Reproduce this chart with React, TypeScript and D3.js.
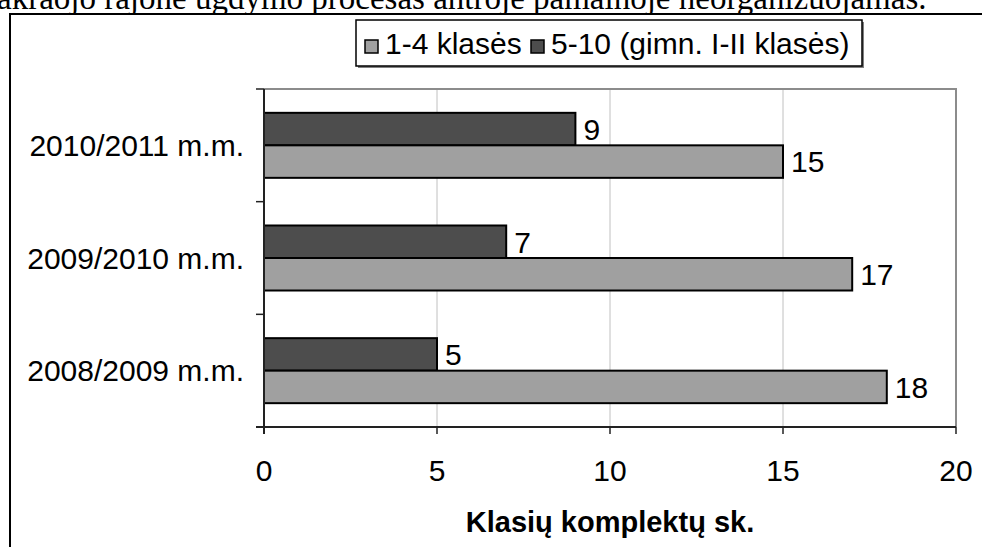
import React from 'react';
import * as d3 from 'd3';

// categories top to bottom
const years = ['2010/2011 m.m.', '2009/2010 m.m.', '2008/2009 m.m.'];
const seriesNames = ['5-10 (gimn. I-II klasės)', '1-4 klasės'];
const seniorValues = [9, 7, 5]; // 5-10 (gimn. I-II klasės)
const juniorValues = [15, 17, 18]; // 1-4 klasės
const xTicks = [0, 5, 10, 15, 20];

const W = 982;
const H = 547;
const plot = { left: 264, right: 956, top: 89, bottom: 427 };
const sans = '"Liberation Sans", Arial, sans-serif';
const fs = 30;

const colors: Record<string, string> = {
  '5-10 (gimn. I-II klasės)': '#4d4d4d',
  '1-4 klasės': '#a0a0a0',
};

export default function App() {
  const x = d3.scaleLinear().domain([0, 20]).range([plot.left, plot.right]);
  const y = d3
    .scaleBand<string>()
    .domain(years)
    .range([plot.top, plot.bottom])
    .paddingInner(0.423)
    .paddingOuter(0.2115);
  const inner = d3.scaleBand<string>().domain(seriesNames).range([0, y.bandwidth()]);
  const step = y.step();
  const bounds = d3.range(years.length + 1).map((i) => plot.top + i * step);

  const rows = years.map((yr, i) => ({
    yr,
    vals: [
      { s: seriesNames[0], v: seniorValues[i] },
      { s: seriesNames[1], v: juniorValues[i] },
    ],
  }));

  return (
    <svg width={W} height={H} style={{ position: 'absolute', left: 0, top: 0, background: '#fff' }}>
      {/* cut-off paragraph line above the chart */}
      <text x={-3} y={9} fontFamily='"Liberation Serif", "Times New Roman", serif' fontSize={33} fill="#000">
        akraojo rajone ugdymo procesas antroje pamainoje neorganizuojamas.
      </text>

      {/* outer frame */}
      <rect x={10} y={14} width={1000} height={600} fill="#fff" stroke="#000" strokeWidth={2} />

      {/* gridlines */}
      {xTicks.slice(1, -1).map((t) => (
        <line key={t} x1={x(t)} x2={x(t)} y1={plot.top} y2={plot.bottom} stroke="#c0c0c0" strokeWidth={1} />
      ))}
      {/* plot border top / right */}
      <path
        d={`M${plot.left},${plot.top}H${plot.right}V${plot.bottom}`}
        fill="none"
        stroke="#8c8c8c"
        strokeWidth={2}
      />

      {/* bars */}
      {rows.map((r) =>
        r.vals.map((d) => (
          <rect
            key={r.yr + d.s}
            x={x(0)}
            y={(y(r.yr) as number) + (inner(d.s) as number)}
            width={x(d.v) - x(0)}
            height={inner.bandwidth()}
            fill={colors[d.s]}
            stroke="#000"
            strokeWidth={2}
          />
        ))
      )}

      {/* value labels */}
      {rows.map((r) =>
        r.vals.map((d) => (
          <text
            key={'l' + r.yr + d.s}
            x={x(d.v) + 8}
            y={(y(r.yr) as number) + (inner(d.s) as number) + inner.bandwidth() / 2}
            dy="0.36em"
            fontFamily={sans}
            fontSize={fs}
            fill="#000"
          >
            {d.v}
          </text>
        ))
      )}

      {/* axes */}
      <line x1={plot.left} x2={plot.left} y1={plot.top} y2={plot.bottom + 7} stroke="#222" strokeWidth={2} />
      <line x1={plot.left - 8} x2={plot.right} y1={plot.bottom} y2={plot.bottom} stroke="#222" strokeWidth={2} />
      {bounds.map((b, i) => (
        <line key={'yt' + i} x1={plot.left - 8} x2={plot.left} y1={b} y2={b} stroke="#222" strokeWidth={1.5} />
      ))}
      {xTicks.map((t) => (
        <line key={'xt' + t} x1={x(t)} x2={x(t)} y1={plot.bottom} y2={plot.bottom + 7} stroke="#222" strokeWidth={1.5} />
      ))}

      {/* tick labels */}
      {xTicks.map((t) => (
        <text key={'xl' + t} x={x(t)} y={481} textAnchor="middle" fontFamily={sans} fontSize={fs} fill="#000">
          {t}
        </text>
      ))}
      {years.map((yr) => (
        <text
          key={'yl' + yr}
          x={244}
          y={(y(yr) as number) + y.bandwidth() / 2}
          dy="0.36em"
          textAnchor="end"
          fontFamily={sans}
          fontSize={fs}
          fill="#000"
        >
          {yr}
        </text>
      ))}

      {/* axis title */}
      <text x={610} y={532} textAnchor="middle" fontFamily={sans} fontSize={29} fontWeight="bold" fill="#000">
        Klasių komplektų sk.
      </text>

      {/* legend */}
      <rect x={358} y={22} width={506} height={46} fill="#808080" />
      <rect x={356} y={20} width={506} height={46} fill="#fff" stroke="#000" strokeWidth={1.5} />
      <rect x={365} y={40} width={13} height={13} fill={colors['1-4 klasės']} stroke="#000" strokeWidth={1.5} />
      <text x={385} y={54} fontFamily={sans} fontSize={fs} fill="#000">
        1-4 klasės
      </text>
      <rect x={531} y={40} width={13} height={13} fill={colors['5-10 (gimn. I-II klasės)']} stroke="#000" strokeWidth={1.5} />
      <text x={551} y={54} fontFamily={sans} fontSize={fs} fill="#000">
        5-10 (gimn. I-II klasės)
      </text>
    </svg>
  );
}
